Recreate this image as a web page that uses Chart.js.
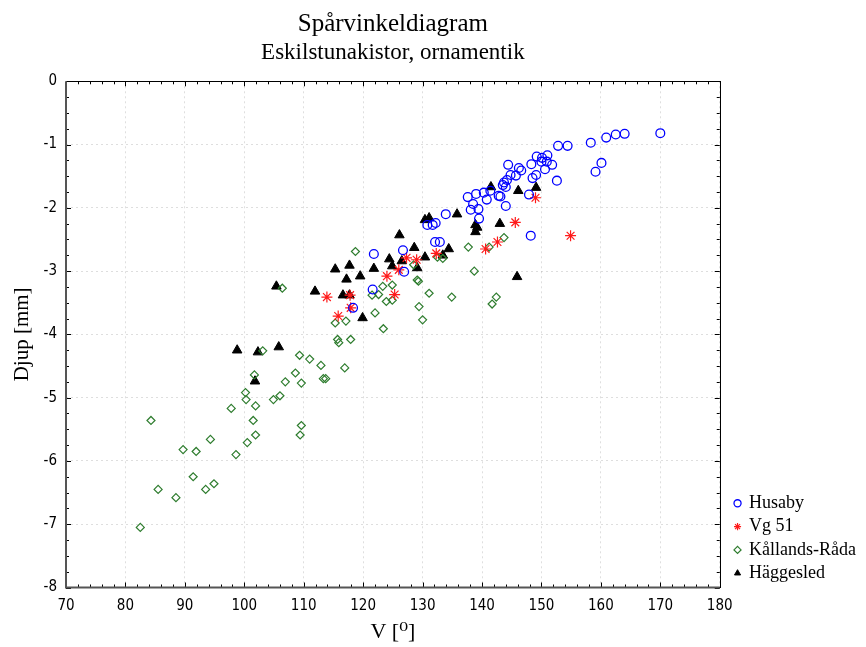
<!DOCTYPE html>
<html>
<head>
<meta charset="utf-8">
<script src="https://cdn.jsdelivr.net/npm/chart.js@4.4.0/dist/chart.umd.min.js"></script>
<style>
  html, body { margin: 0; padding: 0; background: #fff; }
  #wrap { width: 866px; height: 647px; }
</style>
</head>
<body>
<div id="wrap"><canvas id="chart" width="866" height="647"></canvas></div>
<script>
// Husaby
const husabyV = [170.0, 164.0, 162.5, 160.9, 158.3, 154.4, 152.8, 160.1, 159.1, 152.6,
  149.2, 151.0, 150.1, 148.3, 150.0, 150.9, 151.8, 150.6, 149.1, 148.5,
  144.4, 146.2, 146.6, 145.7, 144.8, 144.2, 143.7, 143.5, 144.0, 141.4,
  140.3, 139.0, 137.6, 140.8, 142.8, 143.1, 144.0, 138.5, 139.4, 138.1,
  139.5, 147.9, 133.9, 132.2, 131.7, 130.8, 132.1, 132.9, 148.2, 126.7,
  121.8, 126.9, 121.6, 118.3];
const husabyDjup = [-0.82, -0.83, -0.84, -0.89, -0.97, -1.02, -1.02, -1.29, -1.43, -1.57,
  -1.19, -1.17, -1.21, -1.31, -1.27, -1.27, -1.32, -1.39, -1.48, -1.53,
  -1.32, -1.37, -1.41, -1.49, -1.48, -1.56, -1.60, -1.64, -1.67, -1.73,
  -1.76, -1.78, -1.83, -1.87, -1.81, -1.82, -1.97, -1.94, -2.02, -2.03,
  -2.17, -1.79, -2.10, -2.24, -2.27, -2.27, -2.54, -2.54, -2.44, -2.67,
  -2.73, -3.01, -3.29, -3.58];

// Vg 51
const vg51V = [113.9, 117.8, 117.9, 115.8, 124.0, 126.0, 127.3, 129.0, 125.3, 132.3,
  140.6, 142.6, 145.6, 149.0, 154.9];
const vg51Djup = [-3.41, -3.38, -3.58, -3.71, -3.08, -2.98, -2.79, -2.82, -3.37, -2.72,
  -2.65, -2.54, -2.23, -1.84, -2.44];

// Kållands-Råda
const kallandsV = [84.3, 89.7, 91.9, 94.3, 97.8, 101.9, 101.5, 101.9, 100.5, 98.6,
  91.4, 85.5, 88.5, 93.5, 94.9, 82.5, 100.2, 100.3, 101.7, 103.1,
  104.9, 106.0, 106.9, 108.6, 109.6, 109.3, 111.0, 112.9, 113.3, 113.7,
  109.6, 109.4, 115.3, 115.7, 115.9, 106.4, 118.7, 123.3, 124.9, 121.5,
  122.6, 123.9, 124.9, 122.0, 117.1, 123.4, 117.9, 128.5, 129.1, 129.3,
  131.1, 129.4, 130.0, 132.5, 133.4, 137.7, 141.2, 143.7, 138.7, 134.9,
  142.4, 141.7, 116.9];
const kallandsDjup = [-5.36, -5.82, -5.85, -5.66, -5.17, -5.13, -5.36, -5.59, -5.71, -5.90,
  -6.25, -6.45, -6.58, -6.45, -6.36, -7.05, -4.92, -5.03, -4.64, -4.26,
  -5.03, -4.97, -4.75, -4.61, -4.77, -4.33, -4.39, -4.49, -4.70, -4.70,
  -5.44, -5.59, -3.82, -4.08, -4.13, -3.27, -2.69, -3.24, -3.22, -3.38,
  -3.37, -3.48, -3.46, -3.66, -3.79, -3.91, -4.08, -2.90, -3.14, -3.16,
  -3.35, -3.56, -3.77, -2.78, -2.80, -2.62, -2.62, -2.47, -3.00, -3.41,
  -3.41, -3.52, -4.53];

// Häggesled
const haggeV = [98.8, 102.3, 105.8, 101.8, 105.4, 111.9, 115.3, 117.7, 117.2, 119.5,
  116.6, 117.7, 119.9, 121.8, 124.4, 124.9, 126.1, 126.5, 128.6, 129.1,
  130.4, 130.4, 131.1, 135.8, 138.9, 139.2, 138.9, 143.0, 133.4, 134.4,
  141.5, 146.1, 149.1, 145.9];
const haggeDjup = [-4.25, -4.28, -4.20, -4.74, -3.24, -3.32, -2.97, -2.91, -3.13, -3.08,
  -3.38, -3.38, -3.74, -2.96, -2.81, -2.92, -2.43, -2.84, -2.63, -2.95,
  -2.78, -2.19, -2.16, -2.10, -2.27, -2.31, -2.38, -2.25, -2.75, -2.65,
  -1.67, -1.73, -1.68, -3.09];

const serif = "'Liberation Serif', 'DejaVu Serif', serif";
const narrow = "'Liberation Sans Narrow', 'DejaVu Sans Condensed', 'Liberation Sans', sans-serif";

function toPoints(xs, ys) {
  return xs.map((v, i) => ({ x: v, y: ys[i] }));
}

// ram + inåtvända streck (stora och små)
const framePlugin = {
  id: 'frame',
  beforeDatasetsDraw(chart) {
    const { ctx, chartArea: a } = chart;
    const sx = chart.scales.x, sy = chart.scales.y;
    ctx.save();
    ctx.strokeStyle = '#000';
    ctx.lineWidth = 1;
    ctx.beginPath();
    for (let v = 70; v <= 180; v += 2) {
      const px = Math.round(sx.getPixelForValue(v)) + 0.5;
      const len = v % 10 === 0 ? 5 : 3;
      ctx.moveTo(px, a.bottom); ctx.lineTo(px, a.bottom - len);
      ctx.moveTo(px, a.top); ctx.lineTo(px, a.top + len);
    }
    for (let k = 0; k <= 32; k++) {
      const v = -8 + k * 0.25;
      const py = Math.round(sy.getPixelForValue(v)) + 0.5;
      const len = k % 4 === 0 ? 5 : 3;
      ctx.moveTo(a.left, py); ctx.lineTo(a.left + len, py);
      ctx.moveTo(a.right, py); ctx.lineTo(a.right - len, py);
    }
    ctx.stroke();
    ctx.strokeRect(Math.round(a.left) + 0.5, Math.round(a.top) + 0.5,
      Math.round(a.right - a.left), Math.round(a.bottom - a.top));
    ctx.strokeStyle = '#555';
    ctx.lineWidth = 2;
    ctx.beginPath();
    ctx.moveTo(a.left, a.top); ctx.lineTo(a.left, a.bottom); ctx.lineTo(a.right, a.bottom);
    ctx.stroke();
    ctx.restore();
  }
};

const ctx = document.getElementById('chart').getContext('2d');
new Chart(ctx, {
  type: 'scatter',
  data: {
    datasets: [{
      label: 'Husaby',
      data: toPoints(husabyV, husabyDjup),
      pointStyle: 'circle',
      pointRadius: 4.4,
      borderColor: '#0000ff',
      backgroundColor: 'rgba(0,0,0,0)',
      borderWidth: 1.3
    }, {
      label: 'Vg 51',
      data: toPoints(vg51V, vg51Djup),
      pointStyle: 'star',
      pointRadius: 5.5,
      borderColor: '#ff1a1a',
      backgroundColor: '#ff1a1a',
      borderWidth: 1.2
    }, {
      label: 'Kållands-Råda',
      data: toPoints(kallandsV, kallandsDjup),
      pointStyle: 'rectRot',
      pointRadius: 4,
      borderColor: '#2f7d2f',
      backgroundColor: 'rgba(0,0,0,0)',
      borderWidth: 1.2
    }, {
      label: 'Häggesled',
      data: toPoints(haggeV, haggeDjup),
      pointStyle: 'triangle',
      pointRadius: 5.5,
      borderColor: '#000',
      backgroundColor: '#000',
      borderWidth: 1
    }]
  },
  options: {
    responsive: false,
    animation: false,
    layout: { padding: { left: 0, right: 0, top: 0, bottom: 0 } },
    plugins: {
      title: {
        display: true,
        fullSize: false,
        text: 'Spårvinkeldiagram',
        color: '#000',
        font: { family: serif, size: 25, weight: 'normal' },
        padding: { top: 9, bottom: 0 }
      },
      subtitle: {
        display: true,
        fullSize: false,
        text: 'Eskilstunakistor, ornamentik',
        color: '#000',
        font: { family: serif, size: 23, weight: 'normal' },
        padding: { top: 0, bottom: 14.7 }
      },
      legend: {
        position: 'right',
        align: 'end',
        fullSize: false,
        labels: {
          usePointStyle: true,
          boxWidth: 5,
          boxHeight: 5,
          padding: 5.3,
          color: '#000',
          font: { family: serif, size: 18 }
        }
      },
      tooltip: { enabled: false }
    },
    scales: {
      x: {
        type: 'linear',
        min: 70,
        max: 180,
        afterFit(scale) { scale.height = 59.5; },
        ticks: {
          stepSize: 10,
          padding: 9.5,
          color: '#000',
          font: { family: narrow, size: 15 }
        },
        grid: { color: 'rgba(0,0,0,0.13)', drawTicks: false },
        border: { display: false, dash: [2, 3] },
        title: {
          display: true,
          text: 'V [⁰]',
          color: '#000',
          font: { family: serif, size: 22 },
          padding: { top: 2, bottom: 2 }
        }
      },
      y: {
        type: 'linear',
        min: -8,
        max: 0,
        afterFit(scale) { scale.width = 66; },
        ticks: {
          stepSize: 1,
          padding: 9,
          color: '#000',
          font: { family: narrow, size: 15 }
        },
        grid: { color: 'rgba(0,0,0,0.13)', drawTicks: false },
        border: { display: false, dash: [2, 3] },
        title: {
          display: true,
          text: 'Djup [mm]',
          color: '#000',
          font: { family: serif, size: 21 },
          padding: { top: 10, bottom: 10 }
        }
      },
      gap: {
        type: 'linear',
        position: 'right',
        axis: 'y',
        display: true,
        afterFit(scale) { scale.width = 10; },
        ticks: { display: false },
        grid: { display: false, drawTicks: false },
        border: { display: false }
      }
    }
  },
  plugins: [framePlugin]
});
</script>
</body>
</html>
